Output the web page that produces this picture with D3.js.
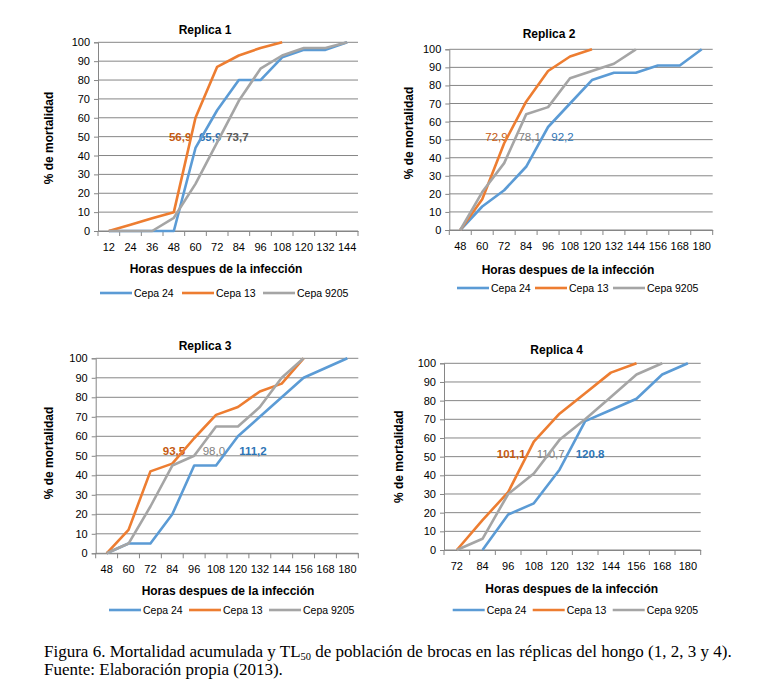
<!DOCTYPE html>
<html>
<head>
<meta charset="utf-8">
<script src="https://cdn.jsdelivr.net/npm/d3@7"></script>
<style>
  body { margin: 0; background: #fff; }
  svg { display: block; }
</style>
</head>
<body>
<script>
// series names + colours
var seriesNames = ["Cepa 24", "Cepa 13", "Cepa 9205"];
var seriesColors = ["#5B9BD5", "#ED7D31", "#A5A5A5"];
var yTicks = [0, 10, 20, 30, 40, 50, 60, 70, 80, 90, 100];

// Replica 1
var rep1Hours = [12, 24, 36, 48, 60, 72, 84, 96, 108, 120, 132, 144];
var rep1Cepa24 = [0, 0, 0, 0, 44, 64, 80, 80, 92, 96, 96, 100];
var rep1Cepa13 = [0, 3.3, 6.7, 10, 60, 87, 93, 97, 100, null, null, null];
var rep1Cepa9205 = [0, 0, 0, 7, 25, 47, 69, 86, 93, 97, 97, 100];
var rep1Tl50 = ["65,9", "56,9", "73,7"];

// Replica 2
var rep2Hours = [48, 60, 72, 84, 96, 108, 120, 132, 144, 156, 168, 180];
var rep2Cepa24 = [0, 13, 22, 35, 57, 70, 83, 87, 87, 91, 91, 100];
var rep2Cepa13 = [0, 17, 48, 71, 88, 96, 100, null, null, null, null, null];
var rep2Cepa9205 = [0, 21, 37, 64, 68, 84, 88, 92, 100, null, null, null];
var rep2Tl50 = ["92,2", "72,9", "78,1"];

// Replica 3
var rep3Hours = [48, 60, 72, 84, 96, 108, 120, 132, 144, 156, 168, 180];
var rep3Cepa24 = [0, 5, 5, 20, 45, 45, 60, 70, 80, 90, 95, 100];
var rep3Cepa13 = [0, 12, 42, 46, 59, 71, 75, 83, 87, 100, null, null];
var rep3Cepa9205 = [0, 5, 24, 45, 50, 65, 65, 75, 90, 100, null, null];
var rep3Tl50 = ["111,2", "93,5", "98,0"];

// Replica 4
var rep4Hours = [72, 84, 96, 108, 120, 132, 144, 156, 168, 180];
var rep4Cepa24 = [null, 0, 19, 25, 43, 69, 75, 81, 94, 100];
var rep4Cepa13 = [0, 16, 31, 58, 73, 84, 95, 100, null, null];
var rep4Cepa9205 = [0, 6, 30, 41, 59, 70, 82, 94, 100, null];
var rep4Tl50 = ["120.8", "101,1", "110,7"];

var w = 773;
var h = 679;

var svg = d3.select("body")
    .append("svg")
    .attr("width", w)
    .attr("height", h);

var font = "'Liberation Sans', Arial, sans-serif";
var gridColor = "#868686";
var labelColors = ["#2E75B6", "#C55A11", "#7F7F7F"];

// layout of each panel (pixels), label spots in hours
var panels = [
    { title: "Replica 1", hours: rep1Hours, series: [rep1Cepa24, rep1Cepa13, rep1Cepa9205], tl50: rep1Tl50,
      L: 98, R: 358, T: 42.3, B: 231, titleX: 205, titleY: 34, xTitleX: 216, xTitleDy: 42, yTitleX: 53, yTitleY: 138,
      legY: 293, legX: [100, 182, 263], labelAt: [68.1, 51.5, 83.2], labelVal: 50, labelBold: [true, true, true], grayLabel: "#595959" },
    { title: "Replica 2", hours: rep2Hours, series: [rep2Cepa24, rep2Cepa13, rep2Cepa9205], tl50: rep2Tl50,
      L: 449.3, R: 712.7, T: 49.3, B: 230, titleX: 549, titleY: 38, xTitleX: 568, xTitleDy: 44, yTitleX: 413, yTitleY: 133,
      legY: 288, legX: [457, 535, 613], labelAt: [103.9, 67.8, 85.9], labelVal: 51.7, labelBold: [false, false, false], grayLabel: "#7F7F7F" },
    { title: "Replica 3", hours: rep3Hours, series: [rep3Cepa24, rep3Cepa13, rep3Cepa9205], tl50: rep3Tl50,
      L: 95.7, R: 358.3, T: 358.3, B: 553.3, titleX: 205, titleY: 350, xTitleX: 228, xTitleDy: 42, yTitleX: 53, yTitleY: 453,
      legY: 610, legX: [109, 189, 269], labelAt: [128.2, 84.9, 106.8], labelVal: 52.5, labelBold: [true, true, false], grayLabel: "#7F7F7F" },
    { title: "Replica 4", hours: rep4Hours, series: [rep4Cepa24, rep4Cepa13, rep4Cepa9205], tl50: rep4Tl50,
      L: 444, R: 700.7, T: 363.3, B: 550, titleX: 556.7, titleY: 354, xTitleX: 571.7, xTitleDy: 43, yTitleX: 403, yTitleY: 456.7,
      legY: 610, legX: [452.7, 532.7, 612.7], labelAt: [134.3, 97.4, 115.9], labelVal: 51.5, labelBold: [true, true, false], grayLabel: "#7F7F7F" }
];

panels.forEach(drawPanel);

function drawPanel(p) {
    var g = svg.append("g");

    var xScale = d3.scaleBand()
        .domain(p.hours)
        .range([p.L, p.R]);
    var yScale = d3.scaleLinear()
        .domain([0, 100])
        .range([p.B, p.T]);

    // hours -> pixels, for the TL50 labels
    var step = xScale.step();
    var first = p.hours[0];
    var hourScale = d3.scaleLinear()
        .domain([first, first + 12])
        .range([xScale(first) + step / 2, xScale(first) + step * 1.5]);

    // gridlines
    g.selectAll(".grid")
        .data(yTicks)
        .enter()
        .append("line")
        .attr("x1", p.L)
        .attr("x2", p.R)
        .attr("y1", function (d) { return yScale(d); })
        .attr("y2", function (d) { return yScale(d); })
        .attr("stroke", gridColor)
        .attr("stroke-width", 1);

    // y axis
    var yAxis = g.append("g")
        .attr("transform", "translate(" + p.L + ",0)")
        .call(d3.axisLeft(yScale).tickValues(yTicks).tickSize(4).tickPadding(4));
    yAxis.select(".domain").attr("stroke", gridColor);
    yAxis.selectAll(".tick line").attr("stroke", gridColor);
    yAxis.selectAll("text").attr("font-size", 11).attr("font-family", font).attr("fill", "#000");

    // x axis, labels in the middle of each category
    var xAxis = g.append("g")
        .attr("transform", "translate(0," + p.B + ")")
        .call(d3.axisBottom(xScale).tickSize(0).tickPadding(12).tickSizeOuter(0));
    xAxis.select(".domain").attr("stroke", gridColor);
    xAxis.selectAll("text").attr("font-size", 11).attr("font-family", font).attr("fill", "#000");

    // category tick marks between the bands
    var edges = p.hours.map(function (d) { return xScale(d); }).concat([p.R]);
    g.selectAll(".xtick")
        .data(edges)
        .enter()
        .append("line")
        .attr("x1", function (d) { return d; })
        .attr("x2", function (d) { return d; })
        .attr("y1", p.B)
        .attr("y2", p.B + 5)
        .attr("stroke", gridColor);

    // TL50 labels (under the lines)
    p.tl50.forEach(function (t, i) {
        g.append("text")
            .attr("x", hourScale(p.labelAt[i]))
            .attr("y", yScale(p.labelVal))
            .attr("dy", "0.35em")
            .attr("text-anchor", "middle")
            .attr("font-size", 11.5)
            .attr("font-weight", p.labelBold[i] ? "bold" : "normal")
            .attr("font-family", font)
            .attr("fill", i == 2 ? p.grayLabel : labelColors[i])
            .text(t);
    });

    // lines
    var line = d3.line()
        .defined(function (d) { return d.v != null; })
        .x(function (d) { return xScale(d.h) + step / 2; })
        .y(function (d) { return yScale(d.v); });

    p.series.forEach(function (vals, i) {
        var pts = p.hours.map(function (hh, j) { return { h: hh, v: vals[j] }; });
        g.append("path")
            .datum(pts)
            .attr("d", line)
            .attr("fill", "none")
            .attr("stroke", seriesColors[i])
            .attr("stroke-width", 2.6)
            .attr("stroke-linejoin", "round");
    });

    // title
    g.append("text")
        .attr("x", p.titleX)
        .attr("y", p.titleY)
        .attr("text-anchor", "middle")
        .attr("font-size", 12)
        .attr("font-weight", "bold")
        .attr("font-family", font)
        .text(p.title);

    // x axis title
    g.append("text")
        .attr("x", p.xTitleX)
        .attr("y", p.B + p.xTitleDy)
        .attr("text-anchor", "middle")
        .attr("font-size", 12)
        .attr("font-weight", "bold")
        .attr("font-family", font)
        .text("Horas despues de la infección");

    // y axis title
    g.append("text")
        .attr("text-anchor", "middle")
        .attr("transform", "translate(" + p.yTitleX + "," + p.yTitleY + ") rotate(-90)")
        .attr("font-size", 12)
        .attr("font-weight", "bold")
        .attr("font-family", font)
        .text("% de mortalidad");

    // legend
    seriesNames.forEach(function (name, i) {
        var lx = p.legX[i];
        g.append("line")
            .attr("x1", lx)
            .attr("x2", lx + 32)
            .attr("y1", p.legY)
            .attr("y2", p.legY)
            .attr("stroke", seriesColors[i])
            .attr("stroke-width", 2.6);
        g.append("text")
            .attr("x", lx + 34)
            .attr("y", p.legY)
            .attr("dy", "0.35em")
            .attr("font-size", 10.5)
            .attr("font-family", font)
            .text(name);
    });
}

// caption
var cap = svg.append("text")
    .attr("x", 44)
    .attr("y", 657)
    .attr("font-size", 17)
    .attr("font-family", "'Liberation Serif', 'Times New Roman', serif");
cap.append("tspan").text("Figura 6. Mortalidad acumulada y TL");
cap.append("tspan").attr("font-size", 10.5).attr("dy", 3).text("50");
cap.append("tspan").attr("dy", -3).text(" de población de brocas en las réplicas del hongo (1, 2, 3 y 4).");

svg.append("text")
    .attr("x", 44)
    .attr("y", 675)
    .attr("font-size", 17)
    .attr("font-family", "'Liberation Serif', 'Times New Roman', serif")
    .text("Fuente: Elaboración propia (2013).");
</script>
</body>
</html>
